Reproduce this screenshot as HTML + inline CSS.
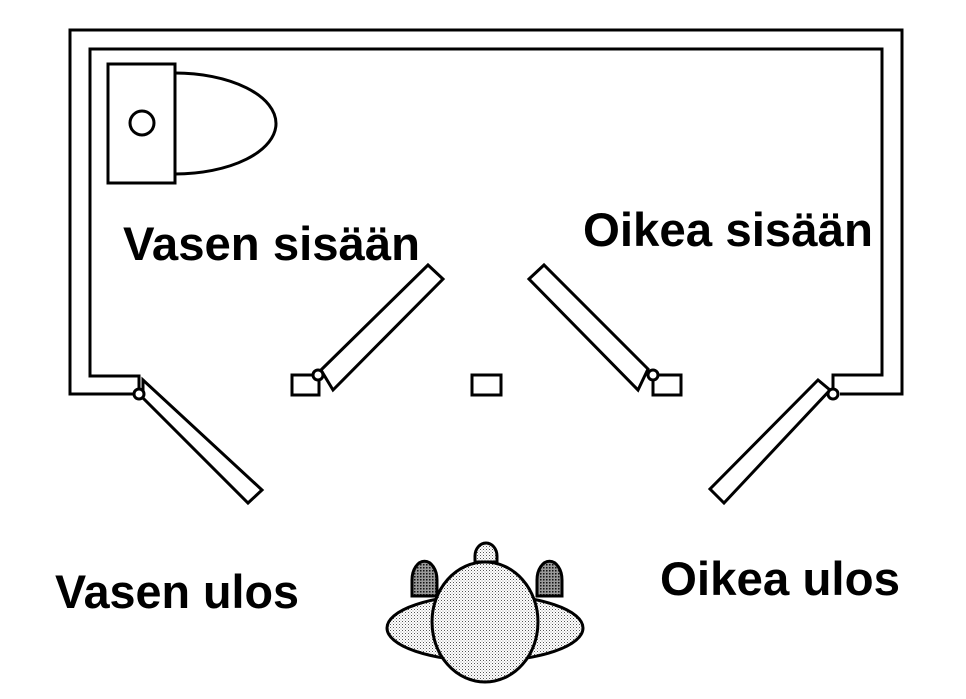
<!DOCTYPE html>
<html><head><meta charset="utf-8"><style>html,body{margin:0;padding:0;background:#fff}svg{display:block}</style></head>
<body>
<svg width="966" height="699" viewBox="0 0 966 699" xmlns="http://www.w3.org/2000/svg">
<defs>
<pattern id="dots" width="3" height="3" patternUnits="userSpaceOnUse"><rect width="3" height="3" fill="#fff"/><rect x="0" y="0" width="1" height="1" fill="#555"/><rect x="1.5" y="1.5" width="1" height="1" fill="#999"/></pattern>
<pattern id="dots2" width="3" height="3" patternUnits="userSpaceOnUse"><rect width="3" height="3" fill="#999"/><rect x="0" y="0" width="1.5" height="1.5" fill="#111"/></pattern>
</defs>
<g fill="none" stroke="#000" stroke-width="3">
<polyline points="137,394 70,394 70,30 902,30 902,394 840,394"/>
<polyline points="139,394 139,376 90,376 90,49 882,49 882,375 833,375 833,390"/>
<rect x="108" y="64" width="67" height="119"/>
<circle cx="142" cy="123" r="12"/>
<path d="M175,73 A100,50 0 0 1 175,174"/>
<polygon points="143,380 262,490 248,503 143,398" fill="#fff"/>
<circle cx="139" cy="394" r="5" fill="#fff"/>
<polygon points="321,370 428,265 443,279 333,390" fill="#fff"/>
<rect x="292" y="375" width="27" height="20"/>
<circle cx="318" cy="375" r="5" fill="#fff"/>
<rect x="472" y="375" width="29" height="20"/>
<polygon points="529,279 544,265 648,369 638,390" fill="#fff"/>
<rect x="653" y="375" width="28" height="20"/>
<circle cx="653" cy="375" r="5" fill="#fff"/>
<polygon points="818,380 830,390 724,503 710,489" fill="#fff"/>
<circle cx="833" cy="394" r="5" fill="#fff"/>
<path d="M412,596 L412,580 A12,18 0 0 1 437,580 L437,596 Z" fill="url(#dots2)"/>
<path d="M537,596 L537,580 A12,18 0 0 1 562,580 L562,596 Z" fill="url(#dots2)"/>
<ellipse cx="485" cy="628" rx="98" ry="33" fill="url(#dots)"/>
<path d="M475,562 L475,556 A11,13 0 0 1 497,556 L497,562 Z" fill="url(#dots)"/>
<ellipse cx="485" cy="622" rx="53" ry="60" fill="url(#dots)"/>
</g>
<g font-family="Liberation Sans, Arial, sans-serif" font-weight="bold" font-size="47" fill="#000">
<text x="123" y="260" textLength="297" lengthAdjust="spacingAndGlyphs">Vasen sisään</text>
<text x="583" y="246" textLength="290" lengthAdjust="spacingAndGlyphs">Oikea sisään</text>
<text x="55" y="608" textLength="244" lengthAdjust="spacingAndGlyphs">Vasen ulos</text>
<text x="660" y="595" textLength="240" lengthAdjust="spacingAndGlyphs">Oikea ulos</text>
</g>
</svg>
</body></html>
